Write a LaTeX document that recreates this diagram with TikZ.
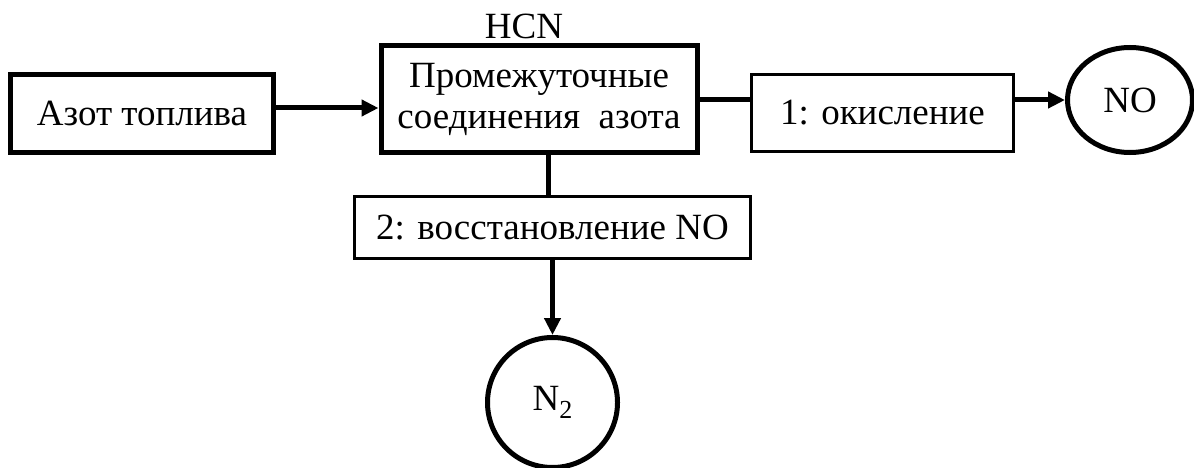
\documentclass[tikz,border=0pt]{standalone}
\usepackage{fontspec}
\setmainfont{Liberation Serif}
\usetikzlibrary{arrows.meta,shapes.geometric}

\begin{document}
\begin{tikzpicture}[x=1pt,y=-1pt,
    box/.style={draw,line width=3pt,inner sep=0pt,font=\fontsize{37}{41}\selectfont},
    bigbox/.style={box,line width=5pt},
    blob/.style={draw,line width=5pt,inner sep=0pt,font=\fontsize{37}{41}\selectfont},
    arr/.style={line width=5pt,-{Triangle[length=17pt,width=16pt]}}]
    \useasboundingbox (0,0) rectangle (1194,468);

    \node[bigbox,minimum width=263pt,minimum height=78pt] (fuel) at (142,113.5) {Азот топлива};
    \node[bigbox,minimum width=316pt,minimum height=107pt,align=center] (inter) at (539,99) {Промежуточные\\соединения\ \ азота};
    \node[font=\fontsize{37}{41}\selectfont] (hcn) at (524,26) {HCN};

    \node[box,minimum width=262pt,minimum height=77pt] (ox) at (882.5,113) {1: окисление};
    \node[blob,ellipse,minimum width=125pt,minimum height=105pt] (no) at (1130,100) {NO};

    \node[box,minimum width=396pt,minimum height=62pt] (red) at (552.5,227.5) {2: восстановление NO};
    \node[blob,circle,minimum size=130pt] (ntwo) at (552.5,402.5) {N\raisebox{-0.45ex}{\fontsize{26}{26}\selectfont 2}};

    \coordinate (lvl) at (0,108);
    \coordinate (stem) at (548,0);
    \draw[arr] (fuel.east |- lvl) -- (inter.west |- lvl);
    \draw[line width=5pt] (inter.east |- no.west) -- (ox.west |- no.west);
    \draw[arr] (ox.east |- no.west) -- (no.west);
    \draw[line width=5pt] (inter.south -| stem) -- (red.north -| stem);
    \draw[arr] (red.south) -- (ntwo.north);
\end{tikzpicture}
\end{document}
